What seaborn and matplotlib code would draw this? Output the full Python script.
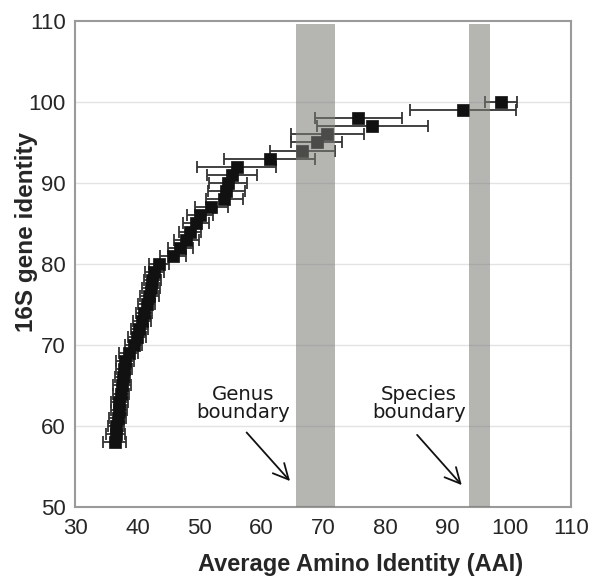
import matplotlib
matplotlib.use("Agg")
import matplotlib.pyplot as plt
import seaborn as sns
import pandas as pd

# 16S rRNA gene identity (%) against mean AAI (%) with its spread
identity = [58, 59, 60, 61, 62, 63, 64, 65, 66, 67, 68, 69, 70, 71, 72, 73, 74, 75,
            76, 77, 78, 79, 80, 81, 82, 83, 84, 85, 86, 87, 88, 89, 90, 91, 92, 93,
            94, 95, 96, 97, 98, 99, 100]
aai = [36.3, 36.5, 36.6, 36.8, 37.0, 37.1, 37.3, 37.5, 37.6, 37.8, 38.0, 38.6, 39.4,
       39.9, 40.3, 40.7, 41.1, 41.5, 41.9, 42.2, 42.4, 42.7, 43.5, 45.8, 46.9, 47.9,
       48.5, 49.4, 50.1, 51.9, 54.0, 54.3, 54.6, 55.2, 56.0, 61.3, 66.6, 68.9, 70.6,
       77.9, 75.6, 92.5, 98.6]
aai_sd = [1.8, 1.5, 1.3, 1.4, 1.3, 1.4, 1.3, 1.4, 1.2, 1.3, 1.4, 1.5, 1.4, 1.5, 1.4,
          1.5, 1.3, 1.4, 1.5, 1.4, 1.4, 1.5, 1.6, 2.1, 2.0, 2.0, 1.8, 2.1, 2.1, 2.7,
          3.0, 3.0, 3.0, 4.0, 6.4, 7.3, 5.3, 4.1, 5.9, 9.0, 7.0, 8.6, 2.6]

# taxonomic boundaries on the AAI axis
genus_band = (65.6, 71.9)
species_band = (93.4, 96.9)

x_ticks = [30, 40, 50, 60, 70, 80, 90, 100, 110]
y_ticks = [50, 60, 70, 80, 90, 100, 110]

df = pd.DataFrame({"aai": aai, "sd": aai_sd, "identity": identity})

sns.set_style("white")
plt.rcParams["font.family"] = ["Liberation Sans", "DejaVu Sans"]

fig = plt.figure(figsize=(5.91, 5.81), dpi=100)
ax = fig.add_axes([0.1277, 0.1274, 0.8393, 0.8365])

ax.set_xlim(30, 110)
ax.set_ylim(50, 110)

for yv in [60, 70, 80, 90, 100]:
    ax.axhline(yv, color="#e3e3e3", lw=1.0, zorder=0)

ax.errorbar(df["aai"], df["identity"], xerr=df["sd"], fmt="none",
            ecolor="#333333", elinewidth=1.3, capsize=4, capthick=1.3, zorder=2)
sns.scatterplot(data=df, x="aai", y="identity", marker="s", s=72,
                color="#111111", edgecolor="#111111", linewidth=0.5,
                ax=ax, zorder=3, legend=False)

band_kw = dict(ymin=0, ymax=0.993, color=(0.478, 0.486, 0.463), alpha=0.557,
               lw=0, zorder=4)
ax.axvspan(*genus_band, **band_kw)
ax.axvspan(*species_band, **band_kw)

txt_kw = dict(ha="center", va="center", fontsize=14.2, family="DejaVu Sans",
              color="#1a1a1a", linespacing=0.95, zorder=5)
ax.text(57.0, 62.8, "Genus\nboundary", **txt_kw)
ax.text(85.4, 62.8, "Species\nboundary", **txt_kw)

arrow_kw = dict(arrowstyle="->,head_length=1.1,head_width=0.55", color="#111111",
                lw=1.3, shrinkA=0, shrinkB=0)
ax.annotate("", xy=(64.6, 53.2), xytext=(57.6, 59.2), arrowprops=arrow_kw, zorder=5)
ax.annotate("", xy=(92.3, 52.7), xytext=(85.1, 58.9), arrowprops=arrow_kw, zorder=5)

ax.set_xticks(x_ticks)
ax.set_yticks(y_ticks)
ax.tick_params(axis="x", direction="out", length=5, width=1, color="#999999",
               labelsize=16, pad=3, labelcolor="#262626")
ax.tick_params(axis="y", direction="out", length=4, width=1, color="#999999",
               labelsize=16, pad=3, labelcolor="#262626")

for sp in ax.spines.values():
    sp.set_visible(True)
    sp.set_color("#9a9a9a")
    sp.set_linewidth(1.5)

ax.set_xlabel("Average Amino Identity (AAI)", fontsize=17, fontweight="bold",
              va="center")
ax.xaxis.set_label_coords(0.574, -0.119)
ax.set_ylabel("16S gene identity", fontsize=17.5, fontweight="bold", va="center")
ax.yaxis.set_label_coords(-0.098, 0.566)

fig.savefig("out.png", dpi=100)
